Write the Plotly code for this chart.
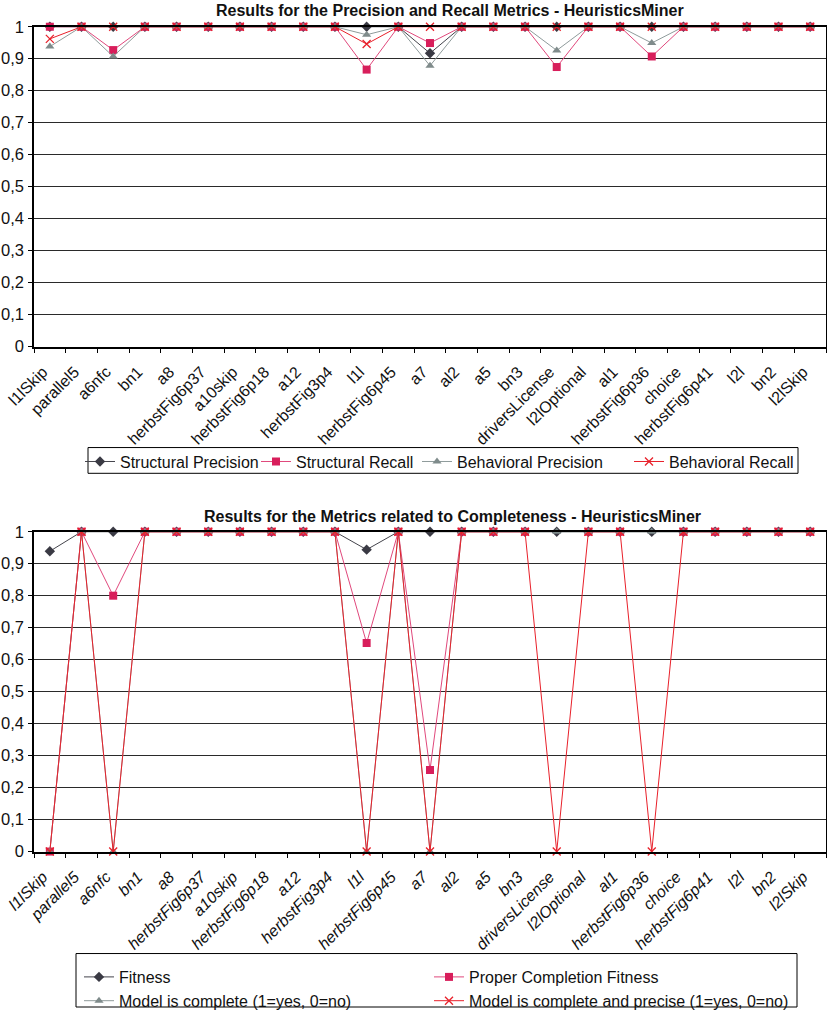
import plotly.graph_objects as go

# Event logs used in the benchmark
logs = ["l1lSkip", "parallel5", "a6nfc", "bn1", "a8", "herbstFig6p37", "a10skip",
        "herbstFig6p18", "a12", "herbstFig3p4", "l1l", "herbstFig6p45", "a7", "al2",
        "a5", "bn3", "driversLicense", "l2lOptional", "al1", "herbstFig6p36", "choice",
        "herbstFig6p41", "l2l", "bn2", "l2lSkip"]

# Precision / recall metrics
structural_precision = [1, 1, 1, 1, 1, 1, 1, 1, 1, 1, 1, 1, 0.917, 1, 1, 1, 1, 1, 1, 1, 1, 1, 1, 1, 1]
structural_recall = [1, 1, 0.927, 1, 1, 1, 1, 1, 1, 1, 0.866, 1, 0.949, 1, 1, 1, 0.874, 1, 1, 0.907, 1, 1, 1, 1, 1]
behavioral_precision = [0.938, 1, 0.907, 1, 1, 1, 1, 1, 1, 1, 0.975, 1, 0.878, 1, 1, 1, 0.926, 1, 1, 0.949, 1, 1, 1, 1, 1]
behavioral_recall = [0.962, 1, 1, 1, 1, 1, 1, 1, 1, 1, 0.946, 1, 1, 1, 1, 1, 1, 1, 1, 1, 1, 1, 1, 1, 1]

# Completeness metrics
fitness = [0.939, 1, 1, 1, 1, 1, 1, 1, 1, 1, 0.944, 1, 1, 1, 1, 1, 1, 1, 1, 1, 1, 1, 1, 1, 1]
proper_completion = [0, 1, 0.8, 1, 1, 1, 1, 1, 1, 1, 0.652, 1, 0.255, 1, 1, 1, None, 1, 1, None, 1, 1, 1, 1, 1]
model_complete = [0, 1, 0, 1, 1, 1, 1, 1, 1, 1, 0, 1, 0, 1, 1, 1, 1, 1, 1, 1, 1, 1, 1, 1, 1]
complete_and_precise = [0, 1, 0, 1, 1, 1, 1, 1, 1, 1, 0, 1, 0, 1, 1, 1, 0, 1, 1, 0, 1, 1, 1, 1, 1]

y_ticks = [0, 0.1, 0.2, 0.3, 0.4, 0.5, 0.6, 0.7, 0.8, 0.9, 1]
y_tick_text = ["0", "0,1", "0,2", "0,3", "0,4", "0,5", "0,6", "0,7", "0,8", "0,9", "1"]

FONT = "Liberation Sans, Arial, Helvetica, sans-serif"
W, H = 827, 1018

STYLES = [
    dict(line=dict(color="#44444c", width=1),
         marker=dict(symbol="diamond", size=8, color="#3a3a44", line=dict(width=0))),
    dict(line=dict(color="#e0487c", width=1),
         marker=dict(symbol="square", size=8, color="#d81e5b", line=dict(width=0))),
    dict(line=dict(color="#8f9b9b", width=1),
         marker=dict(symbol="triangle-up", size=8, color="#7f8b8b", line=dict(width=0))),
    dict(line=dict(color="#e8202a", width=1),
         marker=dict(symbol="x-thin", size=8, color="#e8202a",
                     line=dict(width=1.3, color="#e8202a"))),
]


def px_x(p):
    return p / W


def px_y(p):
    return (H - p) / H


fig = go.Figure()

top_series = [("Structural Precision", structural_precision),
              ("Structural Recall", structural_recall),
              ("Behavioral Precision", behavioral_precision),
              ("Behavioral Recall", behavioral_recall)]
bottom_series = [("Fitness", fitness),
                 ("Proper Completion Fitness", proper_completion),
                 ("Model is complete (1=yes, 0=no)", model_complete),
                 ("Model is complete and precise (1=yes, 0=no)", complete_and_precise)]

# top chart: one single-row legend per entry, so entries can be spaced freely
top_legends = ["legend", "legend2", "legend3", "legend4"]
top_legend_x = [80, 256, 417, 629]
for (name, vals), st, lg in zip(top_series, STYLES, top_legends):
    fig.add_trace(go.Scatter(x=logs, y=vals, name=name, mode="lines+markers",
                             xaxis="x", yaxis="y", legend=lg,
                             cliponaxis=False, **st))

# bottom chart: two columns of two entries
bottom_legends = ["legend5", "legend6", "legend5", "legend6"]
for (name, vals), st, lg in zip(bottom_series, STYLES, bottom_legends):
    fig.add_trace(go.Scatter(x=logs, y=vals, name=name, mode="lines+markers",
                             xaxis="x2", yaxis="y2", legend=lg,
                             connectgaps=False, cliponaxis=False, **st))

x_dom = [px_x(34), px_x(826)]
common_x = dict(type="category", domain=x_dom, tickson="boundaries", ticks="outside",
                ticklen=5, tickcolor="#000", showline=True, linecolor="#000", linewidth=1.5,
                mirror=True, showgrid=False, tickangle=-45, range=[-0.5, len(logs) - 0.5],
                automargin=False, ticklabelshift=-7, ticklabelstandoff=8)
common_y = dict(range=[0, 1], tickvals=y_ticks, ticktext=y_tick_text, ticks="outside",
                ticklen=4, tickcolor="#000", showline=True, linecolor="#000", linewidth=1.5,
                mirror=True, showgrid=True, gridcolor="#2a2a2a", gridwidth=1,
                zeroline=False, automargin=False, ticklabelstandoff=1,
                tickfont=dict(family=FONT, size=16.5, color="#111"))

legend_font = dict(family=FONT, size=16, color="#111")
legend_base = dict(xanchor="left", yanchor="top", borderwidth=0, bgcolor="rgba(0,0,0,0)",
                   font=legend_font, itemwidth=30)

layout_legends = {}
for lg, lx in zip(top_legends, top_legend_x):
    layout_legends[lg] = dict(x=px_x(lx), y=px_y(449), orientation="h", **legend_base)
layout_legends["legend5"] = dict(x=px_x(79), y=px_y(970), orientation="v",
                                 tracegroupgap=0, **legend_base)
layout_legends["legend6"] = dict(x=px_x(429), y=px_y(970), orientation="v",
                                 tracegroupgap=0, **legend_base)

fig.update_layout(
    width=W, height=H,
    margin=dict(l=0, r=0, t=0, b=0),
    paper_bgcolor="white", plot_bgcolor="white",
    font=dict(family=FONT, color="#111"),
    xaxis=dict(anchor="y", tickfont=dict(family=FONT, size=16, color="#111"), **common_x),
    yaxis=dict(anchor="x", domain=[px_y(350), px_y(27)], **common_y),
    xaxis2=dict(anchor="y2", tickfont=dict(family=FONT, size=16, color="#111", style="italic"),
                **common_x),
    yaxis2=dict(anchor="x2", domain=[px_y(860), px_y(537)], **common_y),
    showlegend=True,
    shapes=[
        dict(type="rect", xref="paper", yref="paper",
             x0=px_x(88), x1=px_x(798), y0=px_y(478), y1=px_y(452),
             line=dict(color="#000", width=1), fillcolor="rgba(0,0,0,0)", layer="below"),
        dict(type="rect", xref="paper", yref="paper",
             x0=px_x(76), x1=px_x(797), y0=px_y(1017), y1=px_y(963),
             line=dict(color="#000", width=1), fillcolor="rgba(0,0,0,0)", layer="below"),
    ],
    annotations=[
        dict(text="<b>Results for the Precision and Recall Metrics - HeuristicsMiner</b>",
             x=px_x(450), y=px_y(11), xref="paper", yref="paper", showarrow=False,
             xanchor="center", yanchor="middle",
             font=dict(family=FONT, size=16, color="#111")),
        dict(text="<b>Results for the Metrics related to Completeness - HeuristicsMiner</b>",
             x=px_x(452), y=px_y(522), xref="paper", yref="paper", showarrow=False,
             xanchor="center", yanchor="middle",
             font=dict(family=FONT, size=16, color="#111")),
    ],
    **layout_legends,
)

fig.write_html("out.html")
